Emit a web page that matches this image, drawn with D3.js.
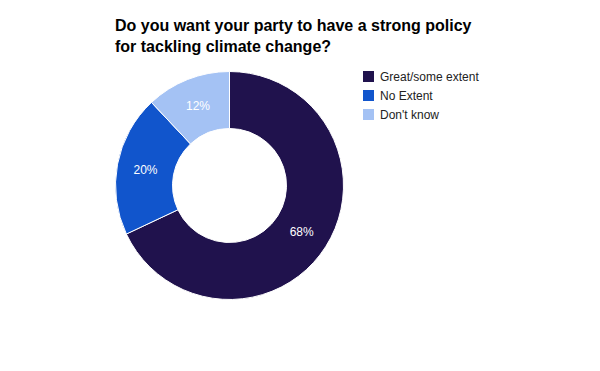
<!DOCTYPE html>
<html>
<head>
<meta charset="utf-8">
<script src="https://cdn.jsdelivr.net/npm/d3@7"></script>
<style>
  body { margin: 0; background: #fff; }
  svg { font-family: "Liberation Sans", Arial, sans-serif; }
</style>
</head>
<body>
<div class="chart"></div>
<script>
// DATA
const CATEGORIES = ["Great/some extent", "No Extent", "Don't know"];
const VALUES = [68, 20, 12];
const COLORS = ["#20124d", "#1155cc", "#a4c2f4"];
const TITLE_LINES = ["Do you want your party to have a strong policy", "for tackling climate change?"];

// GLOBAL CONSTANTS
const FRAME_WIDTH = 600;
const FRAME_HEIGHT = 371;
const CENTER = {x: 229.5, y: 185.5};
const OUTER_R = 114;
const INNER_R = 57;

const FRAME = d3.select(".chart")
  .append("svg")
    .attr("width", FRAME_WIDTH)
    .attr("height", FRAME_HEIGHT);

// TITLE
FRAME.append("text")
  .attr("x", 115)
  .attr("y", 31)
  .attr("font-size", "16px")
  .attr("font-weight", "bold")
  .attr("fill", "#000")
  .selectAll("tspan")
  .data(TITLE_LINES)
  .enter()
  .append("tspan")
    .attr("x", 115)
    .attr("dy", (d, i) => i === 0 ? 0 : 21)
    .text(d => d);

// DONUT
const COLOR_SCALE = d3.scaleOrdinal().domain(CATEGORIES).range(COLORS);

const pie = d3.pie().sort(null).value(d => d.value);
const arc = d3.arc().innerRadius(INNER_R).outerRadius(OUTER_R);

const data = CATEGORIES.map((c, i) => ({category: c, value: VALUES[i]}));
const arcs = pie(data);

const G = FRAME.append("g")
  .attr("transform", "translate(" + CENTER.x + "," + CENTER.y + ")");

G.selectAll("path")
  .data(arcs)
  .enter()
  .append("path")
    .attr("d", arc)
    .attr("fill", d => COLOR_SCALE(d.data.category))
    .attr("stroke", "#fff")
    .attr("stroke-width", 1);

G.selectAll("text.pct")
  .data(arcs)
  .enter()
  .append("text")
    .attr("class", "pct")
    .attr("x", d => arc.centroid(d)[0])
    .attr("y", d => arc.centroid(d)[1])
    .attr("dy", "0.35em")
    .attr("text-anchor", "middle")
    .attr("font-size", "12px")
    .attr("fill", "#fff")
    .text(d => d.data.value + "%");

// LEGEND
const LEGEND = FRAME.append("g")
  .attr("transform", "translate(363,71)");

const rows = LEGEND.selectAll("g")
  .data(CATEGORIES)
  .enter()
  .append("g")
    .attr("transform", (d, i) => "translate(0," + (i * 19) + ")");

rows.append("rect")
  .attr("width", 11)
  .attr("height", 11)
  .attr("fill", d => COLOR_SCALE(d));

rows.append("text")
  .attr("x", 17)
  .attr("y", 10)
  .attr("font-size", "12px")
  .attr("fill", "#222")
  .text(d => d);
</script>
</body>
</html>
